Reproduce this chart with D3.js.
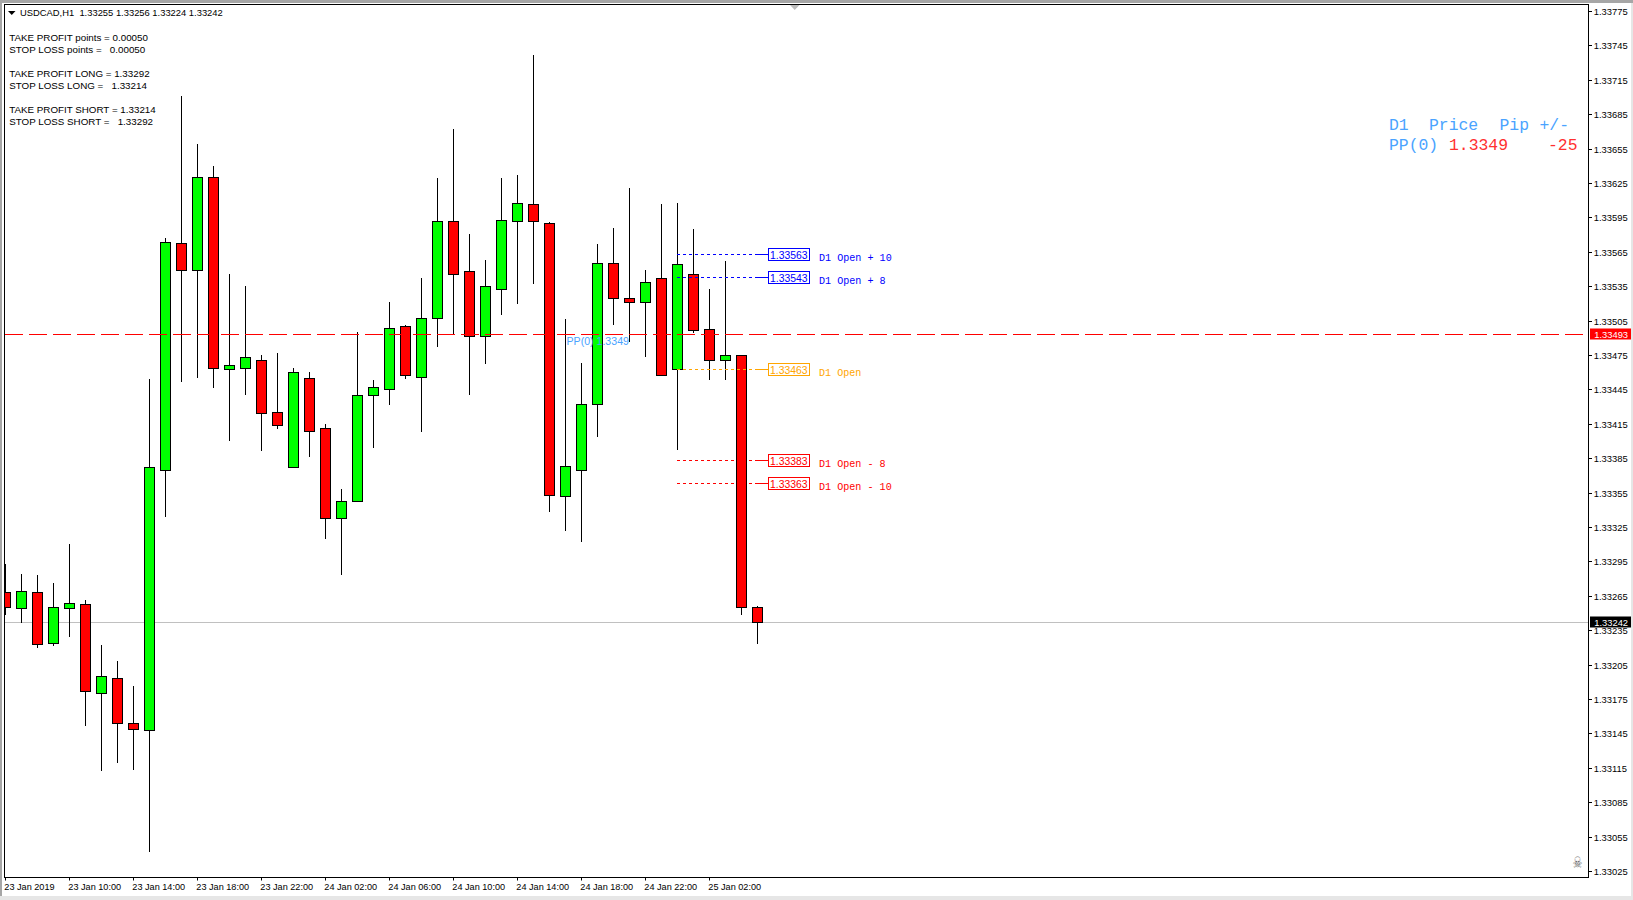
<!DOCTYPE html>
<html>
<head>
<meta charset="utf-8">
<title>USDCAD,H1</title>
<script src="https://cdn.jsdelivr.net/npm/d3@7/dist/d3.min.js"></script>
<style>
html,body{margin:0;padding:0;background:#fff;overflow:hidden}
svg{display:block}
text{white-space:pre}
</style>
</head>
<body>
<svg id="chart" width="1633" height="900"></svg>
<script>
// ---------- data ----------
const opens = [1.33268,1.33254,1.33268,1.33224,1.33254,1.33258,1.33180,1.33193,1.33154,1.33148,1.33375,1.33573,1.33549,1.33630,1.33463,1.33464,1.33471,1.33425,1.33377,1.33455,1.33411,1.33333,1.33348,1.33440,1.33445,1.33500,1.33456,1.33507,1.33592,1.33548,1.33492,1.33533,1.33592,1.33607,1.33590,1.33352,1.33375,1.33432,1.33555,1.33525,1.33521,1.33542,1.33463,1.33546,1.33498,1.33471,1.33475,1.33255];
const highs = [1.33293,1.33284,1.33283,1.33276,1.33310,1.33261,1.33222,1.33208,1.33186,1.33454,1.33577,1.33701,1.33659,1.33640,1.33546,1.33535,1.33475,1.33477,1.33464,1.33460,1.33415,1.33358,1.33495,1.33453,1.33521,1.33501,1.33542,1.33629,1.33672,1.33581,1.33558,1.33629,1.33632,1.33737,1.33591,1.33506,1.33468,1.33572,1.33586,1.33621,1.33549,1.33607,1.33608,1.33585,1.33533,1.33557,1.33475,1.33256];
const lows = [1.33249,1.33242,1.33220,1.33222,1.33230,1.33152,1.33113,1.33120,1.33114,1.33042,1.33335,1.33452,1.33456,1.33447,1.33401,1.33441,1.33392,1.33411,1.33377,1.33387,1.33315,1.33284,1.33348,1.33395,1.33432,1.33455,1.33409,1.33483,1.33494,1.33441,1.33468,1.33511,1.33520,1.33538,1.33339,1.33322,1.33313,1.33404,1.33502,1.33487,1.33474,1.33458,1.33393,1.33495,1.33454,1.33454,1.33249,1.33224];
const closes = [1.33255,1.33269,1.33223,1.33255,1.33259,1.33182,1.33195,1.33154,1.33149,1.33377,1.33574,1.33549,1.33630,1.33464,1.33466,1.33473,1.33424,1.33414,1.33460,1.33409,1.33333,1.33348,1.33440,1.33447,1.33499,1.33458,1.33507,1.33592,1.33546,1.33492,1.33535,1.33593,1.33608,1.33592,1.33353,1.33378,1.33432,1.33555,1.33525,1.33521,1.33539,1.33458,1.33554,1.33497,1.33471,1.33475,1.33255,1.33242];

const priceTicks = [1.33775,1.33745,1.33715,1.33685,1.33655,1.33625,1.33595,1.33565,1.33535,1.33505,1.33475,1.33445,1.33415,1.33385,1.33355,1.33325,1.33295,1.33265,1.33235,1.33205,1.33175,1.33145,1.33115,1.33085,1.33055,1.33025];
const timeTickBars = [0,4,8,12,16,20,24,28,32,36,40,44];
const timeTickLabels = ["23 Jan 2019","23 Jan 10:00","23 Jan 14:00","23 Jan 18:00","23 Jan 22:00","24 Jan 02:00","24 Jan 06:00","24 Jan 10:00","24 Jan 14:00","24 Jan 18:00","24 Jan 22:00","25 Jan 02:00"];

const pivotPrice = 1.33493;
const bidPrice = 1.33242;
const levelPrices = [1.33563,1.33543,1.33463,1.33383,1.33363];
const levelNames = ["D1 Open + 10","D1 Open + 8","D1 Open","D1 Open - 8","D1 Open - 10"];
const levelColors = ["#0000ff","#0000ff","#ffa500","#ff0000","#ff0000"];
const levelStartBar = 42;
const levelEndBar = 47;

const titleText = "USDCAD,H1  1.33255 1.33256 1.33224 1.33242";
const infoLines = [
  ["TAKE PROFIT points = 0.00050", 40.7],
  ["STOP LOSS points =   0.00050", 52.7],
  ["TAKE PROFIT LONG = 1.33292", 76.7],
  ["STOP LOSS LONG =   1.33214", 88.7],
  ["TAKE PROFIT SHORT = 1.33214", 112.7],
  ["STOP LOSS SHORT =   1.33292", 124.7]
];

// ---------- geometry and scales ----------
const L = 4.5, T = 4.5, R = 1588.5, B = 877.5;
const x = d3.scaleLinear().domain([0, 47]).range([5.5, 757.5]);
const y = d3.scaleLinear().domain([1.33025, 1.33775]).range([871.3, 11.5]);
const snap = v => Math.round(v - 0.4) + 0.5;
const py = p => snap(y(p));

const svg = d3.select("#chart");
const sansFont = "'Liberation Sans', Arial, sans-serif";
const monoFont = "'Liberation Mono', 'Courier New', monospace";
const BLUE = "#4aa3ff";

// window frame
svg.append("rect").attr("width",1633).attr("height",900).attr("fill","#fff");
svg.append("rect").attr("x",0).attr("y",0).attr("width",1633).attr("height",3).attr("fill","#a6a6a6");
svg.append("rect").attr("x",0).attr("y",0).attr("width",2).attr("height",900).attr("fill","#a6a6a6");
svg.append("rect").attr("x",0).attr("y",896).attr("width",1633).attr("height",4).attr("fill","#e6e6e6");
svg.append("rect").attr("x",1631).attr("y",3).attr("width",2).attr("height",897).attr("fill","#e6e6e6");

svg.append("defs").append("clipPath").attr("id","plot")
  .append("rect").attr("x",L).attr("y",T).attr("width",R-L).attr("height",B-T);

// axes
const yAxis = d3.axisRight(y).tickValues(priceTicks).tickSize(3).tickPadding(3)
  .tickFormat(d3.format(".5f"));
const gy = svg.append("g").attr("transform",`translate(${R},0)`).call(yAxis);
gy.select(".domain").remove();
gy.selectAll(".tick").attr("transform", d => `translate(0.5,${py(d)})`);
gy.selectAll(".tick line").attr("stroke","#000").attr("x1",0).attr("x2",3);
gy.selectAll(".tick text").attr("font-family",sansFont).attr("font-size",9.4).attr("fill","#000")
  .attr("x",4.8).attr("dy",3.5);

const xAxis = d3.axisBottom(x).tickValues(timeTickBars).tickSize(3).tickPadding(2)
  .tickFormat((d,i)=>timeTickLabels[i]);
const gx = svg.append("g").attr("transform",`translate(0,${B})`).call(xAxis);
gx.select(".domain").remove();
gx.selectAll(".tick").attr("transform", d => `translate(${x(d)},0)`);
gx.selectAll(".tick line").attr("stroke","#000");
gx.selectAll(".tick text").attr("font-family",sansFont).attr("font-size",9.15).attr("fill","#000")
  .attr("text-anchor","start").attr("x",-1.2).attr("y",12.5).attr("dy",0);

// plot area
const plot = svg.append("g").attr("clip-path","url(#plot)");

// bid line behind candles
plot.append("line").attr("x1",L).attr("x2",R).attr("y1",py(bidPrice)).attr("y2",py(bidPrice))
  .attr("stroke","#c0c0c0");

// candles
const bars = d3.range(opens.length);
plot.append("g").selectAll("line").data(bars).join("line")
  .attr("x1",i=>x(i)).attr("x2",i=>x(i))
  .attr("y1",i=>py(highs[i])-0.5).attr("y2",i=>py(lows[i])+0.5)
  .attr("stroke","#000");
plot.append("g").selectAll("rect").data(bars).join("rect")
  .attr("x",i=>x(i)-5).attr("width",10)
  .attr("y",i=>py(Math.max(opens[i],closes[i])))
  .attr("height",i=>py(Math.min(opens[i],closes[i]))-py(Math.max(opens[i],closes[i])))
  .attr("fill",i=>closes[i]>=opens[i]?"#00ff00":"#ff0000")
  .attr("stroke","#000");

// pivot dashed line
plot.append("line").attr("x1",5).attr("x2",R).attr("y1",py(pivotPrice)).attr("y2",py(pivotPrice))
  .attr("stroke","#ff0000").attr("stroke-dasharray","18 6");

// price levels
const lvl = svg.append("g").selectAll("g").data(levelPrices).join("g");
lvl.append("line")
  .attr("x1",x(levelStartBar)-0.5).attr("x2",x(levelEndBar)+0.5)
  .attr("y1",d=>py(d)).attr("y2",d=>py(d))
  .attr("stroke",(d,i)=>levelColors[i]).attr("stroke-dasharray","3 3");
lvl.append("line")
  .attr("x1",x(levelEndBar)+0.5).attr("x2",x(levelEndBar)+11)
  .attr("y1",d=>py(d)).attr("y2",d=>py(d))
  .attr("stroke",(d,i)=>levelColors[i]);
lvl.append("rect")
  .attr("x",x(levelEndBar)+11).attr("width",41)
  .attr("y",d=>py(d)-6).attr("height",12)
  .attr("fill","#fff").attr("stroke",(d,i)=>levelColors[i]);
lvl.append("text")
  .attr("x",x(levelEndBar)+12.5).attr("y",d=>py(d)+4.8)
  .attr("font-family",sansFont).attr("font-size",10.4)
  .attr("fill",(d,i)=>levelColors[i]).text(d=>d3.format(".5f")(d));
lvl.append("text")
  .attr("x",819).attr("y",d=>py(d)+6)
  .attr("font-family",monoFont).attr("font-size",10.1)
  .attr("fill",(d,i)=>levelColors[i]).text((d,i)=>levelNames[i]);

// pivot text on chart
svg.append("text").attr("x",566.5).attr("y",345)
  .attr("font-family",sansFont).attr("font-size",10.6).attr("fill",BLUE).text("PP(0) 1.3349");

// frame on top
svg.append("rect").attr("x",L).attr("y",T).attr("width",R-L).attr("height",B-T)
  .attr("fill","none").attr("stroke","#000");

// axis tags
const tags = [[pivotPrice,"#ff0000"],[bidPrice,"#000000"]];
const tg = svg.append("g").selectAll("g").data(tags).join("g");
tg.append("rect").attr("x",1590).attr("width",41)
  .attr("y",d=>py(d[0])-6).attr("height",11).attr("fill",d=>d[1]);
tg.append("text").attr("x",1594.2).attr("y",d=>py(d[0])+3.3)
  .attr("font-family",sansFont).attr("font-size",9.4).attr("fill","#fff")
  .text(d=>d3.format(".5f")(d[0]));

// header + info block
svg.append("path").attr("d","M8 11H15.5L11.75 15Z").attr("fill","#000");
svg.append("text").attr("x",20).attr("y",16)
  .attr("font-family",sansFont).attr("font-size",9.4).attr("fill","#000").text(titleText);
svg.append("g").selectAll("text").data(infoLines).join("text")
  .attr("x",9.2).attr("y",d=>d[1])
  .attr("font-family",sansFont).attr("font-size",9.8).attr("fill","#000").text(d=>d[0]);

// top-right panel
const panel = [
  ["D1",1389,130,BLUE],["Price",1429,130,BLUE],["Pip",1499.5,130,BLUE],["+/-",1539.5,130,BLUE],
  ["PP(0)",1389,150,BLUE],["1.3349",1449,150,"#ff3030"],["-25",1548,150,"#ff3030"]
];
svg.append("g").selectAll("text").data(panel).join("text")
  .attr("x",d=>d[1]).attr("y",d=>d[2])
  .attr("font-family",monoFont).attr("font-size",16.4).attr("fill",d=>d[3]).text(d=>d[0]);

// shift marker + skull
svg.append("path").attr("d","M790 5H799.5L794.75 10Z").attr("fill","#bdbdbd");
svg.append("text").attr("transform","translate(1577.5,868) scale(0.85,1.2)").attr("text-anchor","middle")
  .attr("font-family","'DejaVu Sans'").attr("font-size",13).attr("fill","#666").text("\u2620");
</script>
</body>
</html>
